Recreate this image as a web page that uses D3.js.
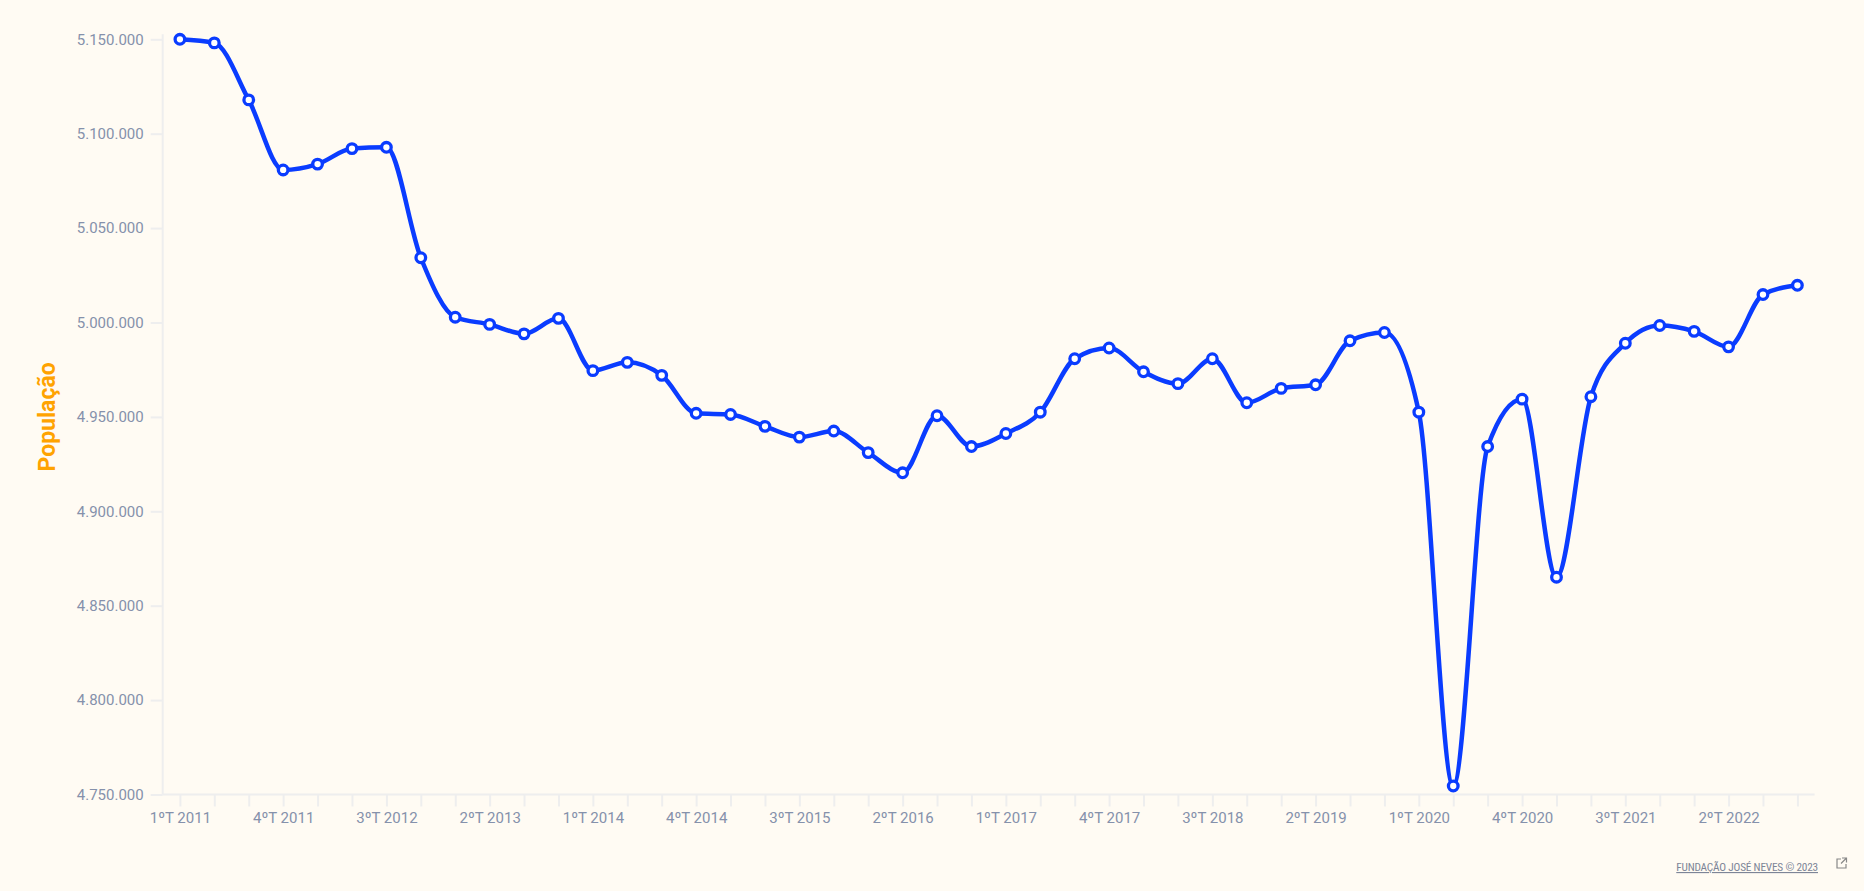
<!DOCTYPE html>
<html><head><meta charset="utf-8">
<script src="https://cdn.jsdelivr.net/npm/d3@7"></script>
<style>
html,body{margin:0;padding:0;background:#fffbf3;}
svg{display:block;font-family:Roboto,"Noto Sans",sans-serif;}
</style></head>
<body>
<svg id="chart" width="1864" height="891"></svg>
<script>
const quarters = [
"1ºT 2011","2ºT 2011","3ºT 2011","4ºT 2011",
"1ºT 2012","2ºT 2012","3ºT 2012","4ºT 2012",
"1ºT 2013","2ºT 2013","3ºT 2013","4ºT 2013",
"1ºT 2014","2ºT 2014","3ºT 2014","4ºT 2014",
"1ºT 2015","2ºT 2015","3ºT 2015","4ºT 2015",
"1ºT 2016","2ºT 2016","3ºT 2016","4ºT 2016",
"1ºT 2017","2ºT 2017","3ºT 2017","4ºT 2017",
"1ºT 2018","2ºT 2018","3ºT 2018","4ºT 2018",
"1ºT 2019","2ºT 2019","3ºT 2019","4ºT 2019",
"1ºT 2020","2ºT 2020","3ºT 2020","4ºT 2020",
"1ºT 2021","2ºT 2021","3ºT 2021","4ºT 2021",
"1ºT 2022","2ºT 2022","3ºT 2022","4ºT 2022"];
const populacao = [
5150000,5148100,5117900,5080800,
5083900,5092100,5092800,5034300,
5002800,4999000,4994000,5002200,
4974500,4978900,4972000,4951900,
4951300,4945000,4939300,4942500,
4931100,4920400,4950600,4934300,
4941200,4952500,4980800,4986500,
4973900,4967600,4980800,4957500,
4965100,4967000,4990300,4994700,
4952500,4754500,4934300,4959400,
4865100,4960700,4989000,4998400,
4995300,4987100,5014800,5019700];
const yTicks = [4750000,4800000,4850000,4900000,4950000,5000000,5050000,5100000,5150000];
const xLabelEvery = 3;
const yTitle = "População";
const footer = "FUNDAÇÃO JOSÉ NEVES © 2023";

(function(){
const svg = d3.select("#chart");
const mLeft = 162.7, mRight = 1814.6, mTop = 39.3, mBottom = 794.5;

const x = d3.scalePoint().domain(quarters).range([mLeft, mRight]).padding(0.5);
const y = d3.scaleLinear().domain([4750000, 5150000]).range([mBottom, mTop]);

const fmt = v => d3.format(",")(v).replace(/,/g, ".");
const axisCol = "#eeeeee", textCol = "#8591ab";

// Y axis
const ya = svg.append("g").attr("transform", `translate(${mLeft},0)`)
  .call(d3.axisLeft(y).tickValues(yTicks).tickFormat(fmt).tickSize(12).tickPadding(7));
ya.select(".domain").attr("stroke", axisCol).attr("stroke-width", 2).attr("d", `M0,${mTop-5}V${mBottom}`);
ya.selectAll(".tick line").attr("stroke", axisCol).attr("stroke-width", 2);
ya.selectAll(".tick text").attr("fill", textCol).attr("font-size", 15).attr("font-family", "Roboto");

// X axis
const xa = svg.append("g").attr("transform", `translate(0,${mBottom})`)
  .call(d3.axisBottom(x).tickSize(12).tickPadding(6)
    .tickFormat((d, i) => i % xLabelEvery === 0 ? d : ""));
xa.select(".domain").attr("stroke", axisCol).attr("stroke-width", 2).attr("d", `M${mLeft},0H${mRight}`);
xa.selectAll(".tick line").attr("stroke", axisCol).attr("stroke-width", 2);
xa.selectAll(".tick text").attr("fill", textCol).attr("font-size", 15).attr("font-family", "Roboto");

// Y title
svg.append("text")
  .attr("transform", `translate(55,${(mTop+mBottom)/2}) rotate(-90)`)
  .attr("text-anchor", "middle")
  .attr("fill", "#ffa300").attr("font-weight", "bold").attr("font-size", 23)
  .text(yTitle);

// Line
const line = d3.line().x((d, i) => x(quarters[i])).y(d => y(d)).curve(d3.curveMonotoneX);
svg.append("path").datum(populacao)
  .attr("d", line).attr("fill", "none").attr("stroke", "#0a3cff")
  .attr("stroke-width", 4.5).attr("stroke-linejoin", "round");

svg.append("g").selectAll("circle").data(populacao).join("circle")
  .attr("cx", (d, i) => x(quarters[i])).attr("cy", d => y(d)).attr("r", 4.8)
  .attr("fill", "#ffffff").attr("stroke", "#0a3cff").attr("stroke-width", 3.3);

// Footer
svg.append("text").attr("x", 1818).attr("y", 871).attr("text-anchor", "end")
  .attr("font-size", 11.3).attr("fill", "#7d8597").attr("text-decoration", "underline")
  .attr("font-family", "Roboto Condensed, Roboto").attr("letter-spacing", -0.2)
  .text(footer);
const ic = svg.append("g").attr("transform", "translate(1836,858)")
  .attr("fill", "none").attr("stroke", "#888").attr("stroke-width", 1.2);
ic.append("path").attr("d", "M5,1H1V10H10V6");
ic.append("path").attr("d", "M6,0H10.5V4.5M10.5,0L5,5.5");
})();
</script>
</body></html>
